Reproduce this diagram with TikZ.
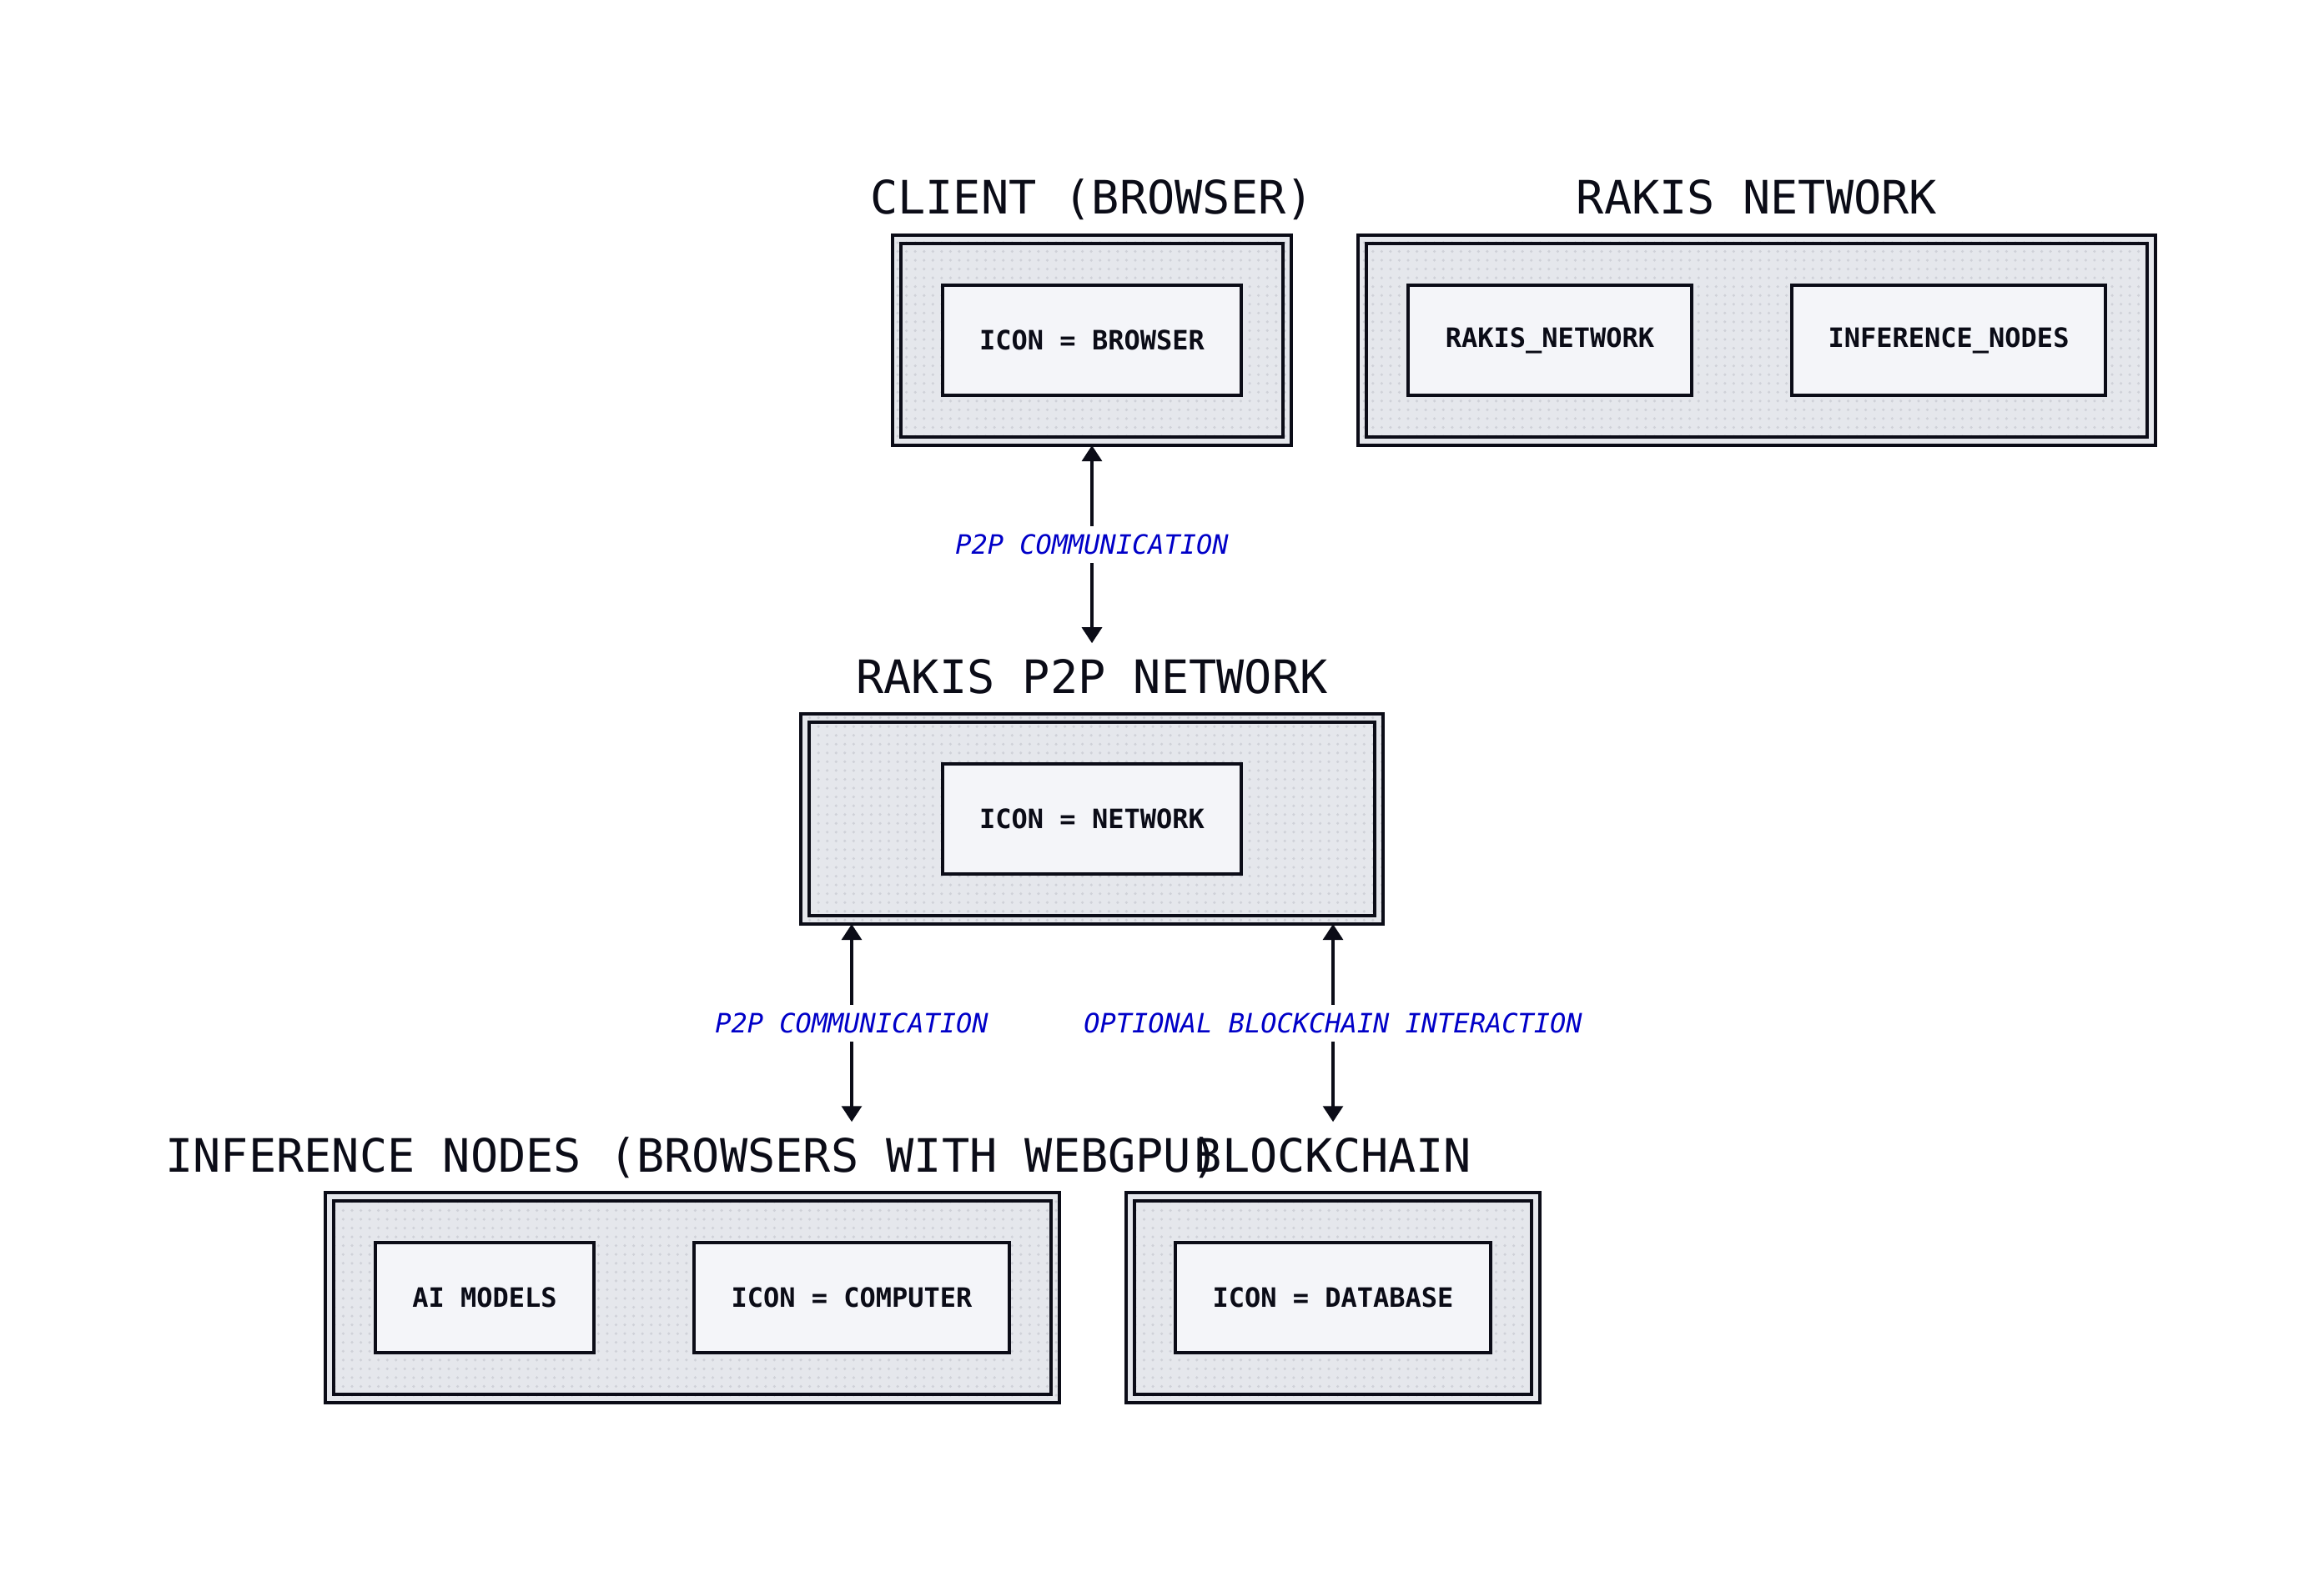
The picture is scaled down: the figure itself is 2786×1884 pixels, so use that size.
\documentclass[tikz,border=0pt]{standalone}
\usepackage{fontspec}
\setmainfont{DejaVu Sans Mono}
\setmonofont{DejaVu Sans Mono}
\usetikzlibrary{arrows.meta,patterns,calc}
\definecolor{contfill}{HTML}{E5E7EC}
\definecolor{dotcol}{HTML}{CFD1D8}
\definecolor{nodefill}{HTML}{F4F5F9}
\definecolor{ink}{HTML}{0B0C17}
\definecolor{lblblue}{HTML}{0000C8}
\begin{document}
\begin{tikzpicture}[x=0.01cm,y=-0.01cm,
  cont/.style={draw=ink, line width=1.2pt, preaction={fill=contfill}, pattern=dots, pattern color=dotcol, inner sep=0pt, outer sep=0pt, minimum height=2.52cm},
  innerb/.style={draw=ink, line width=1.2pt},
  inbox/.style={draw=ink, line width=1.15pt, fill=nodefill, text=ink, inner sep=0pt, minimum height=1.32cm, font=\bfseries\fontsize{9.1}{11}\selectfont},
  ctitle/.style={anchor=base, inner sep=0pt, text height=11pt, outer ysep=6pt, text=ink, font=\fontsize{15.7}{19}\selectfont},
  lbl/.style={fill=white, text=lblblue, inner xsep=4pt, inner ysep=2.9pt, text height=6.7pt, text depth=0pt, font=\itshape\fontsize{9.1}{11}\selectfont},
  conn/.style={draw=ink, line width=1pt, {Triangle[width=6.8pt,length=5.4pt]}-{Triangle[width=6.8pt,length=5.4pt]}}
]
\fill[white] (0,0) rectangle (2786,1884);
\useasboundingbox (0,0) rectangle (2786,1884);

% Client (Browser)
\node[cont, minimum width=4.78cm] (cl) at (1309,408) {};
\draw[innerb] ($(cl.north west)+(10,10)$) rectangle ($(cl.south east)+(-10,-10)$);
\node[inbox, minimum width=3.58cm] (clicon) at (1309,408) {ICON = BROWSER};
\node[ctitle] (cltitle) at (1309,256) {CLIENT (BROWSER)};

% Rakis Network
\node[cont, minimum width=9.56cm] (rn) at (2106,408) {};
\draw[innerb] ($(rn.north west)+(10,10)$) rectangle ($(rn.south east)+(-10,-10)$);
\node[inbox, minimum width=3.40cm] (rnnet) at (1858,408) {RAKIS\_NETWORK};
\node[inbox, minimum width=3.76cm] (rninf) at (2336,408) {INFERENCE\_NODES};
\node[ctitle] (rntitle) at (2106,256) {RAKIS NETWORK};

% Rakis P2P Network
\node[cont, minimum width=6.98cm] (p2p) at (1309,982) {};
\draw[innerb] ($(p2p.north west)+(10,10)$) rectangle ($(p2p.south east)+(-10,-10)$);
\node[inbox, minimum width=3.58cm] (p2picon) at (1309,982) {ICON = NETWORK};
\node[ctitle] (p2ptitle) at (1309,831) {RAKIS P2P NETWORK};

% Inference nodes
\node[cont, minimum width=8.80cm] (inf) at (830,1556) {};
\draw[innerb] ($(inf.north west)+(10,10)$) rectangle ($(inf.south east)+(-10,-10)$);
\node[inbox, minimum width=2.62cm] (infai) at (581,1556) {AI MODELS};
\node[inbox, minimum width=3.78cm] (infcomp) at (1021,1556) {ICON = COMPUTER};
\node[ctitle] (inftitle) at (830,1405) {INFERENCE NODES (BROWSERS WITH WEBGPU)};

% Blockchain
\node[cont, minimum width=4.95cm] (bc) at (1598,1556) {};
\draw[innerb] ($(bc.north west)+(10,10)$) rectangle ($(bc.south east)+(-10,-10)$);
\node[inbox, minimum width=3.77cm] (bcdb) at (1598,1556) {ICON = DATABASE};
\node[ctitle] (bctitle) at (1598,1405) {BLOCKCHAIN};

% Connectors
\draw[conn] (cl.south) -- node[lbl] {P2P COMMUNICATION} (p2ptitle.north);
\draw[conn] (p2p.south -| infcomp.center) -- node[lbl] {P2P COMMUNICATION} (inftitle.north -| infcomp.center);
\draw[conn] (p2p.south -| bcdb.center) -- node[lbl] {OPTIONAL BLOCKCHAIN INTERACTION} (bctitle.north -| bcdb.center);
\end{tikzpicture}
\end{document}
